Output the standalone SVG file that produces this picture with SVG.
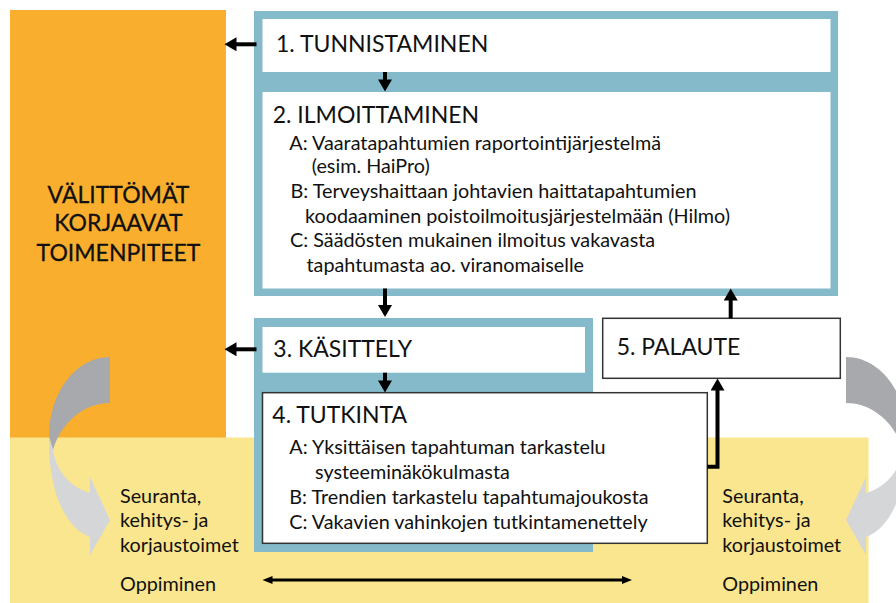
<svg xmlns="http://www.w3.org/2000/svg" width="896" height="603" viewBox="0 0 896 603">
<style>
  text { font-family: Lato, "Liberation Sans", sans-serif; fill: #111; }
  .h { font-size: 23px; }
  .b { font-size: 19.8px; }
  .o { font-size: 23px; stroke: #111; stroke-width: 0.3; }
  .frame { fill: #84BAC9; }
  .white { fill: #fff; }
  .box { fill: #fff; stroke: #333; stroke-width: 1.5; }
  .arr { stroke: #000; stroke-width: 4; fill: none; }
  .thin { stroke: #000; stroke-width: 3; fill: none; }
</style>
<defs>
  <marker id="ah" markerUnits="userSpaceOnUse" markerWidth="13" markerHeight="14" viewBox="0 0 12 14" refX="1" refY="7" orient="auto">
    <path d="M0,0 L12,7 L0,14 Z" fill="#000"/>
  </marker>
  <marker id="ahs" markerUnits="userSpaceOnUse" markerWidth="11" markerHeight="10" viewBox="0 0 10 10" refX="1" refY="5" orient="auto-start-reverse">
    <path d="M0,1 L10,5 L0,9 Z" fill="#000"/>
  </marker>
</defs>

<g id="background">
  <rect x="10" y="10" width="216" height="428" fill="#FAAE2D"/>
  <rect x="10" y="437.5" width="858.5" height="165.5" fill="#F9E68E"/>
</g>

<g id="curved-arrows">
  <g id="curve-left">
    <path d="M110,357 C76,357 49,392 49,437 L53,450 C60,425 82,403 110,403 Z" fill="#A7A9AC"/>
    <path d="M49,437 C48,490 65,528 90,537 L90,555 L110,520 L90,477 L90,493 C72,488 56,472 53,450 Z" fill="#D5D6D8"/>
  </g>
  <g id="curve-right" transform="matrix(-1 0 0 1 956 0)">
    <path d="M110,357 C76,357 49,392 49,437 L53,450 C60,425 82,403 110,403 Z" fill="#A7A9AC"/>
    <path d="M49,437 C48,490 65,528 90,537 L90,555 L110,520 L90,477 L90,493 C72,488 56,472 53,450 Z" fill="#D5D6D8"/>
  </g>
</g>

<g id="frame-top">
  <rect class="frame" x="254" y="11" width="584" height="285"/>
</g>
<g id="frame-bottom">
  <rect class="frame" x="254" y="318" width="339" height="234"/>
</g>

<g id="orange-text">
  <text class="o" x="118.5" y="203" text-anchor="middle">VÄLITTÖMÄT</text>
  <text class="o" x="118.5" y="231" text-anchor="middle">KORJAAVAT</text>
  <text class="o" x="118.5" y="261" text-anchor="middle">TOIMENPITEET</text>
</g>

<g id="node1">
  <rect class="white" x="262.5" y="19" width="568" height="53"/>
  <text class="h" x="276" y="52.3">1. TUNNISTAMINEN</text>
</g>

<g id="node2">
  <rect class="white" x="262.5" y="92" width="568" height="196.5"/>
  <text class="h" x="272.7" y="122.7">2. ILMOITTAMINEN</text>
  <text class="b" x="289.3" y="150">A: Vaaratapahtumien raportointijärjestelmä</text>
  <text class="b" x="311.7" y="173.3">(esim. HaiPro)</text>
  <text class="b" x="290.5" y="198.3">B: Terveyshaittaan johtavien haittatapahtumien</text>
  <text class="b" x="305" y="222.7">koodaaminen poistoilmoitusjärjestelmään (Hilmo)</text>
  <text class="b" x="290" y="246.7">C: Säädösten mukainen ilmoitus vakavasta</text>
  <text class="b" x="306.5" y="271.7">tapahtumasta ao. viranomaiselle</text>
</g>

<g id="node3">
  <rect class="white" x="262.5" y="327" width="322.5" height="45.7"/>
  <text class="h" x="273.3" y="357.3">3. KÄSITTELY</text>
</g>

<g id="node4">
  <rect class="box" x="262.5" y="392.7" width="444.8" height="150.6"/>
  <text class="h" x="272.3" y="423.3">4. TUTKINTA</text>
  <text class="b" x="289.3" y="454">A: Yksittäisen tapahtuman tarkastelu</text>
  <text class="b" x="315" y="479">systeeminäkökulmasta</text>
  <text class="b" x="289.3" y="504">B: Trendien tarkastelu tapahtumajoukosta</text>
  <text class="b" x="289.3" y="529">C: Vakavien vahinkojen tutkintamenettely</text>
</g>

<g id="node5">
  <rect class="box" x="602.7" y="318.3" width="237.6" height="60"/>
  <text class="h" x="616.7" y="355">5. PALAUTE</text>
</g>

<g id="yellow-text">
  <text class="b" x="120" y="503">Seuranta,</text>
  <text class="b" x="120" y="527">kehitys- ja</text>
  <text class="b" x="120" y="552">korjaustoimet</text>
  <text class="b" x="120" y="591">Oppiminen</text>
  <text class="b" x="722.3" y="503">Seuranta,</text>
  <text class="b" x="722.3" y="527">kehitys- ja</text>
  <text class="b" x="722.3" y="552">korjaustoimet</text>
  <text class="b" x="722.3" y="591">Oppiminen</text>
</g>

<g id="connectors">
  <line class="arr" x1="256.5" y1="44.3" x2="235.5" y2="44.3" marker-end="url(#ah)"/>
  <line class="arr" x1="385" y1="72" x2="385" y2="80.5" marker-end="url(#ah)"/>
  <line class="arr" x1="385" y1="288.5" x2="385" y2="306" marker-end="url(#ah)"/>
  <line class="arr" x1="256.5" y1="349.3" x2="235.5" y2="349.3" marker-end="url(#ah)"/>
  <line class="arr" x1="385" y1="372.7" x2="385" y2="381.5" marker-end="url(#ah)"/>
  <line class="arr" x1="730.7" y1="318.3" x2="730.7" y2="299.5" marker-end="url(#ah)"/>
  <path class="arr" d="M707.3,466.7 H717.5 V389.5" marker-end="url(#ah)" stroke-linejoin="miter"/>
  <line class="thin" x1="271.5" y1="580" x2="623" y2="580" marker-start="url(#ahs)" marker-end="url(#ahs)"/>
</g>
</svg>
